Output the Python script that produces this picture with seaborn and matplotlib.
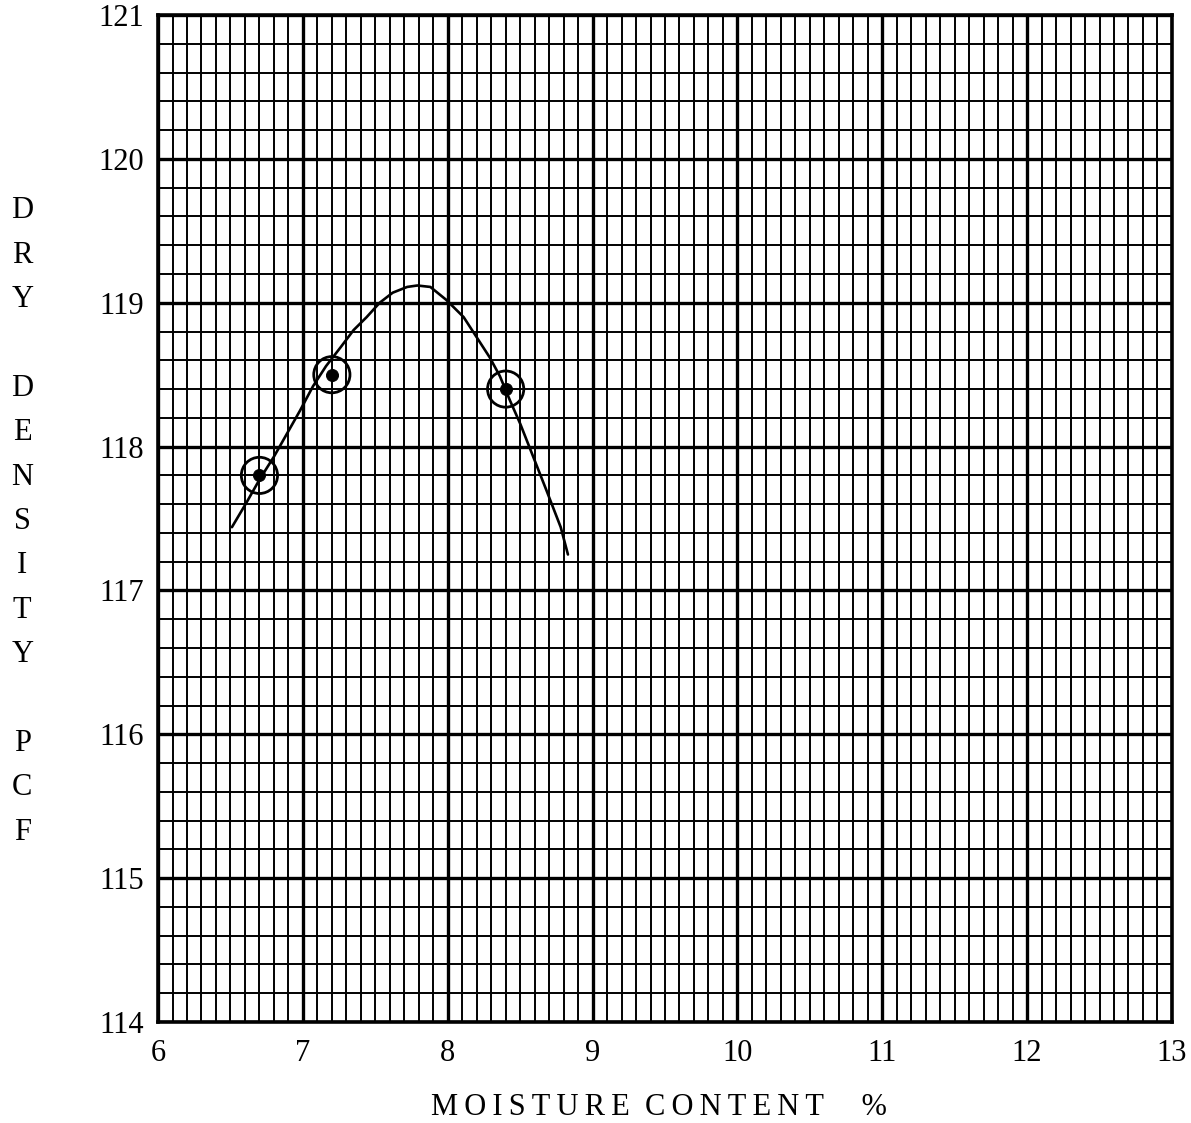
import matplotlib
matplotlib.use("Agg")
import matplotlib.pyplot as plt
import seaborn as sns
import pandas as pd
import numpy as np

# test points (moisture %, dry density pcf)
moisture = [6.7, 7.2, 8.4]
density = [117.8, 118.5, 118.4]

# hand drawn compaction curve
curve_x = [6.51, 6.61, 6.70, 6.80, 6.89, 6.98, 7.07, 7.16, 7.26, 7.35, 7.44, 7.53,
           7.62, 7.72, 7.79, 7.88, 7.99, 8.11, 8.20, 8.29, 8.36, 8.43, 8.50, 8.59,
           8.68, 8.78, 8.83]
curve_y = [117.44, 117.61, 117.77, 117.93, 118.09, 118.25, 118.42, 118.56, 118.69,
           118.81, 118.90, 119.00, 119.07, 119.11, 119.12, 119.11, 119.02, 118.90,
           118.76, 118.62, 118.49, 118.32, 118.16, 117.93, 117.70, 117.44, 117.25]

x_ticks = [6, 7, 8, 9, 10, 11, 12, 13]
y_ticks = [114, 115, 116, 117, 118, 119, 120, 121]

sns.set_style("white")
plt.rcParams['font.family'] = ['Liberation Serif', 'DejaVu Serif']
plt.rcParams['text.color'] = 'black'
plt.rcParams['xtick.color'] = 'black'
plt.rcParams['ytick.color'] = 'black'
plt.rcParams['axes.labelcolor'] = 'black'

fig = plt.figure(figsize=(11.91, 11.23), dpi=100)
ax = fig.add_axes([0.1327, 0.0899, 0.8513, 0.8967])

pts = pd.DataFrame({'moisture': moisture, 'density': density})
curve = pd.DataFrame({'x': curve_x, 'y': curve_y})

sns.lineplot(data=curve, x='x', y='y', ax=ax, color='black', lw=1.9, sort=False, zorder=5)
sns.scatterplot(data=pts, x='moisture', y='density', ax=ax, s=680, facecolor='none',
                edgecolor='black', linewidth=2.0, zorder=6)
sns.scatterplot(data=pts, x='moisture', y='density', ax=ax, s=75, color='black',
                edgecolor='black', zorder=7)

ax.set_xlim(6, 13)
ax.set_ylim(114, 121)
ax.set_xticks(x_ticks)
ax.set_yticks(y_ticks)
ax.set_xticks(np.arange(6, 13.001, 0.1), minor=True)
ax.set_yticks(np.arange(114, 121.001, 0.2), minor=True)
ax.grid(which='major', color='black', lw=2.4)
ax.grid(which='minor', color='black', lw=1.4)
ax.set_axisbelow(True)
ax.tick_params(which='both', length=0, labelsize=22)
ax.tick_params(axis='x', pad=12)
ax.tick_params(axis='y', pad=10)
for s in ax.spines.values():
    s.set_color('black')
    s.set_linewidth(2.6)

sp = '\u2009'
xlab = sp.join('MOISTURE') + '  ' + sp.join('CONTENT') + '     %'
ax.set_xlabel(xlab, fontsize=22, va='center')
ax.xaxis.set_label_coords(0.494, -0.0844)
ax.set_ylabel('\n'.join('DRY DENSITY PCF'), fontsize=22, rotation=0,
              linespacing=1.70, va='center', ha='center')
ax.yaxis.set_label_coords(-0.134, 0.497)

fig.savefig('out.png', dpi=100)
